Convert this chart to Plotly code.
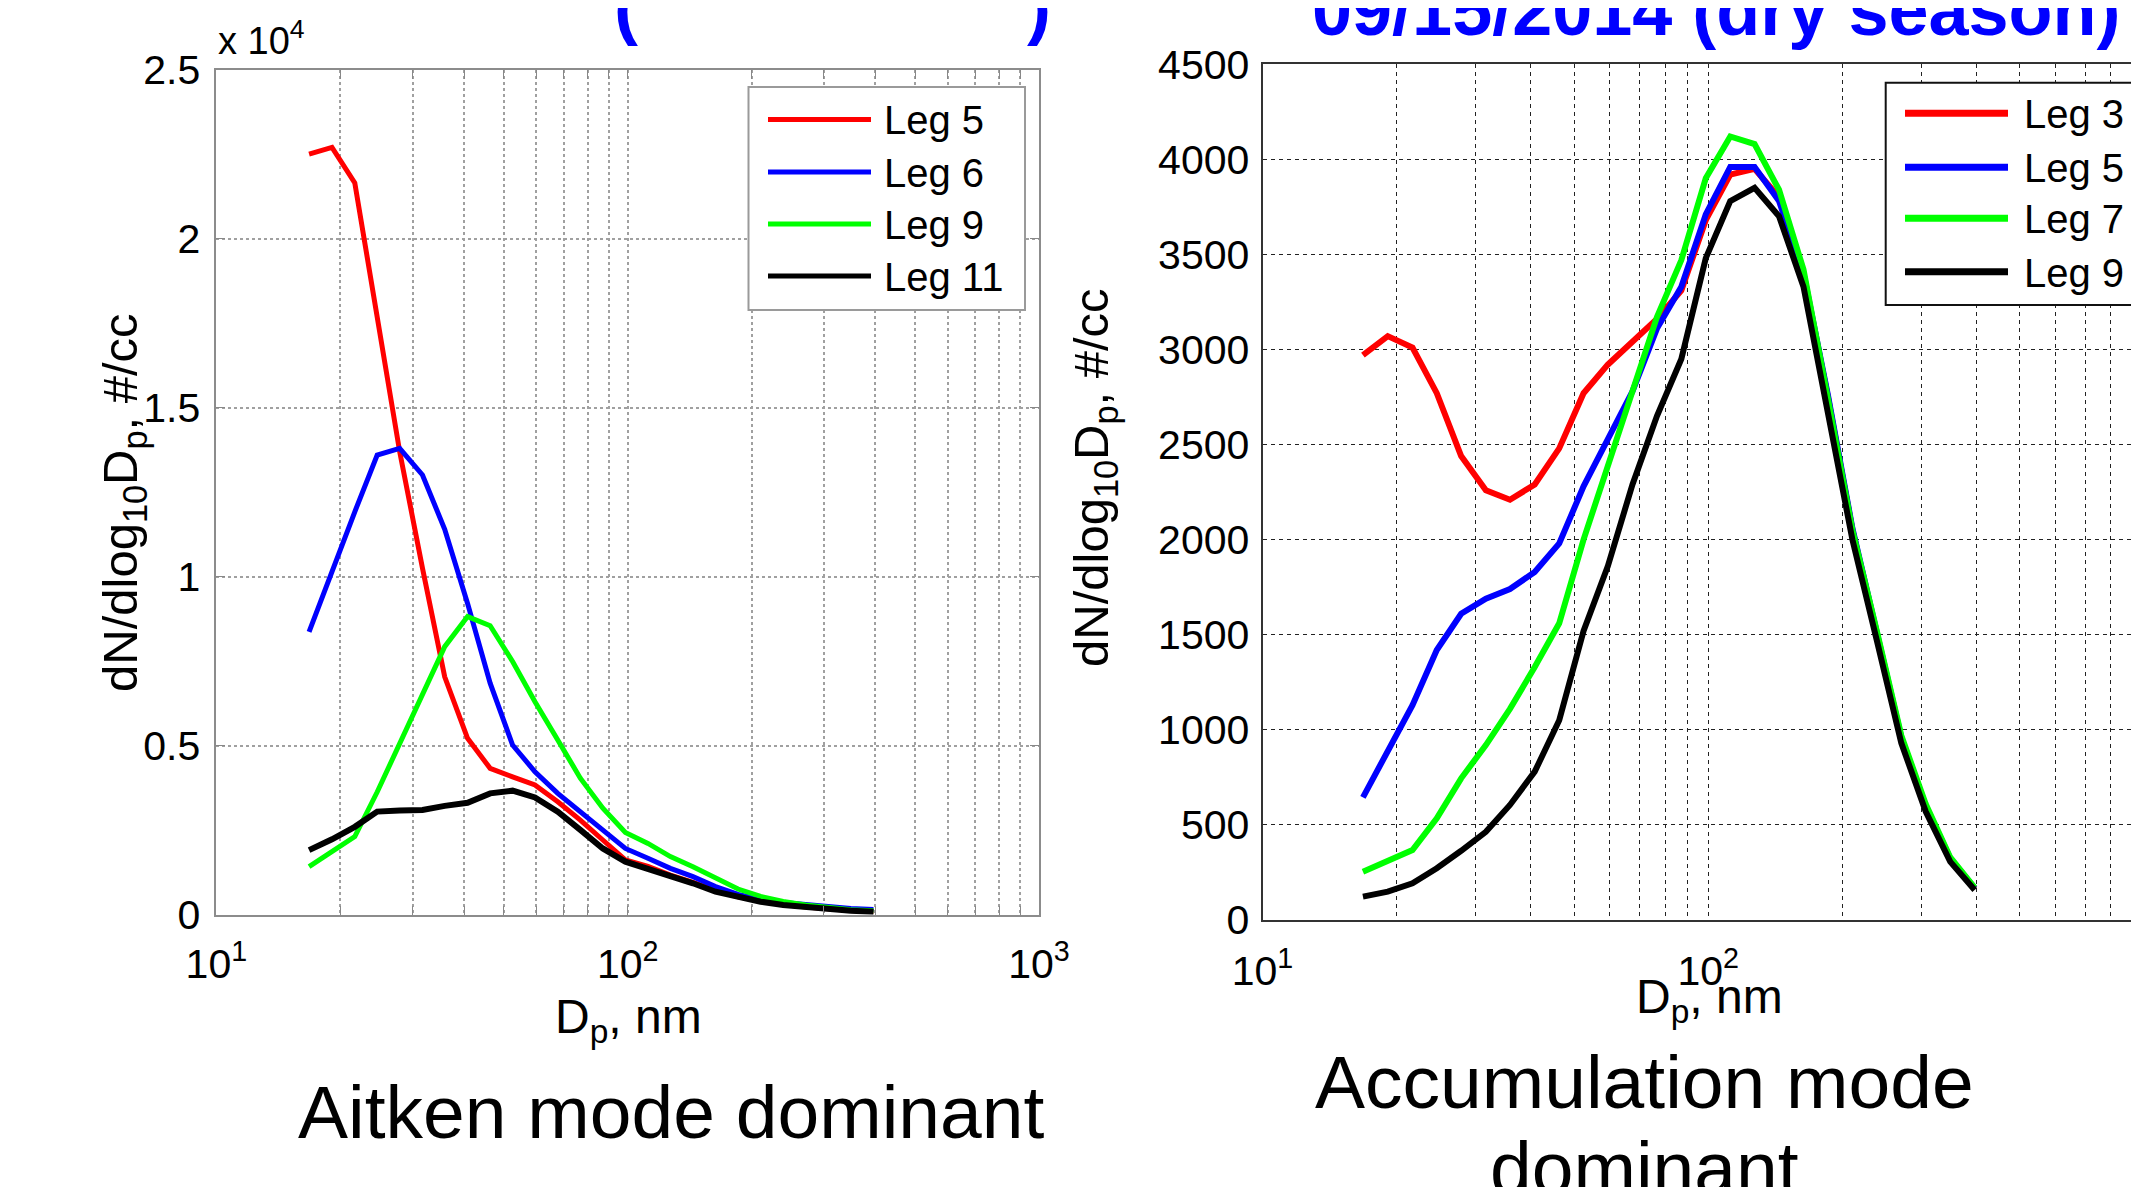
import plotly.graph_objects as go

# ---------------- data ----------------
Dp_nm = [16.8, 19.1, 21.7, 24.6, 27.9, 31.7, 35.9, 40.8, 46.3, 52.5, 59.5, 67.6, 76.7,
         87.0, 98.7, 112.0, 127.0, 144.1, 163.5, 185.5, 210.5, 238.8, 271.0, 307.4, 348.8, 395.8]

# Left panel: Aitken mode dominant
aitken_names = ["Leg 5", "Leg 6", "Leg 9", "Leg 11"]
aitken_leg5 = [22500, 22700, 21650, 17600, 13700, 10250, 7040, 5220, 4330, 4080, 3840, 3340, 2800,
               2210, 1620, 1430, 1170, 960, 710, 530, 400, 300, 230, 170, 125, 95]
aitken_leg6 = [8370, 10190, 11920, 13600, 13800, 13010, 11400, 9210, 6850, 5020, 4230, 3590, 3050,
               2510, 1960, 1670, 1370, 1125, 830, 600, 450, 360, 290, 230, 185, 155]
aitken_leg9 = [1420, 1860, 2310, 3630, 5070, 6450, 7930, 8820, 8550, 7490, 6300, 5170, 4040,
               3150, 2430, 2110, 1720, 1420, 1100, 760, 540, 390, 290, 200, 145, 115]
aitken_leg11 = [1910, 2230, 2600, 3050, 3080, 3100, 3220, 3310, 3590, 3670, 3470, 3050, 2510,
                1960, 1570, 1370, 1130, 930, 680, 510, 385, 286, 217, 158, 118, 89]

# Right panel: Accumulation mode dominant
accum_names = ["Leg 3", "Leg 5", "Leg 7", "Leg 9"]
accum_leg3 = [2970, 3070, 3010, 2770, 2440, 2260, 2210, 2290, 2480, 2770, 2920, 3040, 3160,
              3310, 3680, 3920, 3950, 3800, 3390, 2750, 2050, 1500, 950, 590, 320, 165]
accum_leg5 = [645, 885, 1130, 1420, 1610, 1690, 1740, 1830, 1980, 2280, 2530, 2780, 3110,
              3330, 3710, 3960, 3960, 3780, 3400, 2760, 2060, 1510, 960, 600, 325, 168]
accum_leg7 = [254, 307, 368, 535, 745, 920, 1110, 1330, 1560, 2000, 2390, 2770, 3170,
              3470, 3900, 4120, 4080, 3840, 3420, 2740, 2050, 1520, 970, 610, 330, 170]
accum_leg9 = [123, 149, 193, 272, 364, 464, 605, 780, 1050, 1520, 1860, 2290, 2650,
              2950, 3480, 3780, 3850, 3700, 3330, 2680, 2000, 1470, 930, 570, 307, 158]

colors = ["#FF0000", "#0000FF", "#00FF00", "#000000"]

left_yticks = [0, 5000, 10000, 15000, 20000, 25000]
left_yticktext = ["0", "0.5", "1", "1.5", "2", "2.5"]
right_yticks = [0, 500, 1000, 1500, 2000, 2500, 3000, 3500, 4000, 4500]
x_tickvals = [10, 20, 30, 40, 50, 60, 70, 80, 90, 100, 200, 300, 400, 500, 600, 700, 800, 900, 1000]
x_ticktext = ["10<sup>1</sup>"] + [""] * 8 + ["10<sup>2</sup>"] + [""] * 8 + ["10<sup>3</sup>"]

# ---------------- layout helpers ----------------
W, H = 2139, 1187
OFF = 8  # page body margin of the written html
FONT = "Liberation Sans, Arial, Helvetica, sans-serif"


def px(x):
    return (x - OFF) / W


def py(y):
    return 1 - (y - OFF) / H


fig = go.Figure()

for name, vals, c in zip(aitken_names, [aitken_leg5, aitken_leg6, aitken_leg9, aitken_leg11], colors):
    fig.add_trace(go.Scatter(x=Dp_nm, y=vals, mode="lines", name=name,
                             line=dict(color=c, width=6 if c == "#000000" else 5),
                             xaxis="x", yaxis="y", showlegend=False))

for name, vals, c in zip(accum_names, [accum_leg3, accum_leg5, accum_leg7, accum_leg9], colors):
    fig.add_trace(go.Scatter(x=Dp_nm, y=vals, mode="lines", name=name,
                             line=dict(color=c, width=6),
                             xaxis="x2", yaxis="y2", showlegend=False))

tickfont = dict(family=FONT, size=41, color="black")

fig.update_layout(
    width=W, height=H, autosize=False,
    margin=dict(l=0, r=0, t=0, b=0, autoexpand=False),
    paper_bgcolor="white", plot_bgcolor="white",
    font=dict(family=FONT, color="black"),
    xaxis=dict(type="log", range=[1, 3], domain=[px(216.4), px(1039)], anchor="y",
               tickvals=x_tickvals, ticktext=x_ticktext, tickfont=tickfont, tickangle=0,
               showgrid=True, gridcolor="#a0a0a0", griddash="dot", gridwidth=1.5,
               ticks="inside", ticklen=9, tickcolor="#888888", tickwidth=1.2,
               showline=True, linecolor="#8c8c8c", linewidth=2, mirror="allticks",
               ticklabelstandoff=12, zeroline=False, automargin=False),
    yaxis=dict(range=[0, 25000], domain=[py(914.7), py(69.7)], anchor="x",
               tickvals=left_yticks, ticktext=left_yticktext, tickfont=tickfont,
               showgrid=True, gridcolor="#a0a0a0", griddash="dot", gridwidth=1.5,
               ticks="inside", ticklen=9, tickcolor="#888888", tickwidth=1.2,
               showline=True, linecolor="#8c8c8c", linewidth=2, mirror="allticks",
               ticklabelstandoff=6, zeroline=False, automargin=False),
    xaxis2=dict(type="log", range=[1, 1 + (W + OFF - 1262.5) / 445.8], domain=[px(1262.5), 1],
                anchor="y2", tickvals=x_tickvals, ticktext=x_ticktext, tickfont=tickfont, tickangle=0,
                showgrid=True, gridcolor="#222222", griddash="4px,4px", gridwidth=1.3,
                ticks="", showline=True, linecolor="#333333", linewidth=2, mirror=True,
                ticklabelstandoff=14, zeroline=False, automargin=False),
    yaxis2=dict(range=[0, 4500], domain=[py(920), py(64.2)], anchor="x2",
                tickvals=right_yticks, tickfont=tickfont,
                showgrid=True, gridcolor="#222222", griddash="4px,4px", gridwidth=1.3,
                ticks="", showline=True, linecolor="#333333", linewidth=2, mirror=True,
                ticklabelstandoff=3, zeroline=False, automargin=False),
)

shapes = []
annotations = []


def legend(box, line_x, ys, names, border, lw, text_x, fsize):
    shapes.append(dict(type="rect", xref="paper", yref="paper",
                       x0=px(box[0]), x1=px(box[1]), y0=py(box[3]), y1=py(box[2]),
                       fillcolor="white", line=dict(color=border, width=2), layer="above"))
    for y, n, c in zip(ys, names, colors):
        shapes.append(dict(type="line", xref="paper", yref="paper",
                           x0=px(line_x[0]), x1=px(line_x[1]), y0=py(y), y1=py(y),
                           line=dict(color=c, width=lw), layer="above"))
        annotations.append(dict(text=n, xref="paper", yref="paper", x=px(text_x), y=py(y + 1),
                                xanchor="left", yanchor="middle", showarrow=False,
                                font=dict(family=FONT, size=fsize, color="black")))


legend((748.5, 1025, 87, 310), (768, 871), [119.4, 172, 224, 276], aitken_names,
       "#9a9a9a", 5, 882, 40)
legend((1885.7, 2138, 82.7, 305), (1905, 2008), [113.3, 167.3, 218.3, 271.7], accum_names,
       "#111111", 7, 2022, 40)


def text(t, x, y, size, xanchor="center", yanchor="middle", angle=0, color="black", bold=False):
    if bold:
        t = "<b>" + t + "</b>"
    annotations.append(dict(text=t, xref="paper", yref="paper", x=px(x), y=py(y),
                            xanchor=xanchor, yanchor=yanchor, textangle=angle, showarrow=False,
                            font=dict(family=FONT, size=size, color=color)))


# axis titles and multipliers
text("x 10<sup>4</sup>", 216, 38, 38, xanchor="left")
text("D<sub>p</sub>, nm", 628, 1020, 48)
text("D<sub>p</sub>, nm", 1709, 1000, 48)
text("dN/dlog<sub>10</sub>D<sub>p</sub>, #/cc", 123, 503, 49, angle=-90)
text("dN/dlog<sub>10</sub>D<sub>p</sub>, #/cc", 1094, 478, 49, angle=-90)
# clipped 10^3 label of right panel (beyond the page edge)
text("10<sup>3</sup>", 2131, 962, 41, xanchor="left")

# captions
text("Aitken mode dominant", 671, 1112, 75)
text("Accumulation mode", 1644, 1082, 75)
text("dominant", 1644, 1168, 75)

# clipped slide title (only its lower edge is inside the picture)
text("(", 612, 6, 72, xanchor="left", color="#0000FF", bold=True)
text(")", 1053, 6, 72, xanchor="right", color="#0000FF", bold=True)
text("09/15/2014 (dry season)", 1310, 10, 72, xanchor="left", color="#0000FF", bold=True)

fig.update_layout(shapes=shapes, annotations=annotations)

fig.write_html("out.html")
